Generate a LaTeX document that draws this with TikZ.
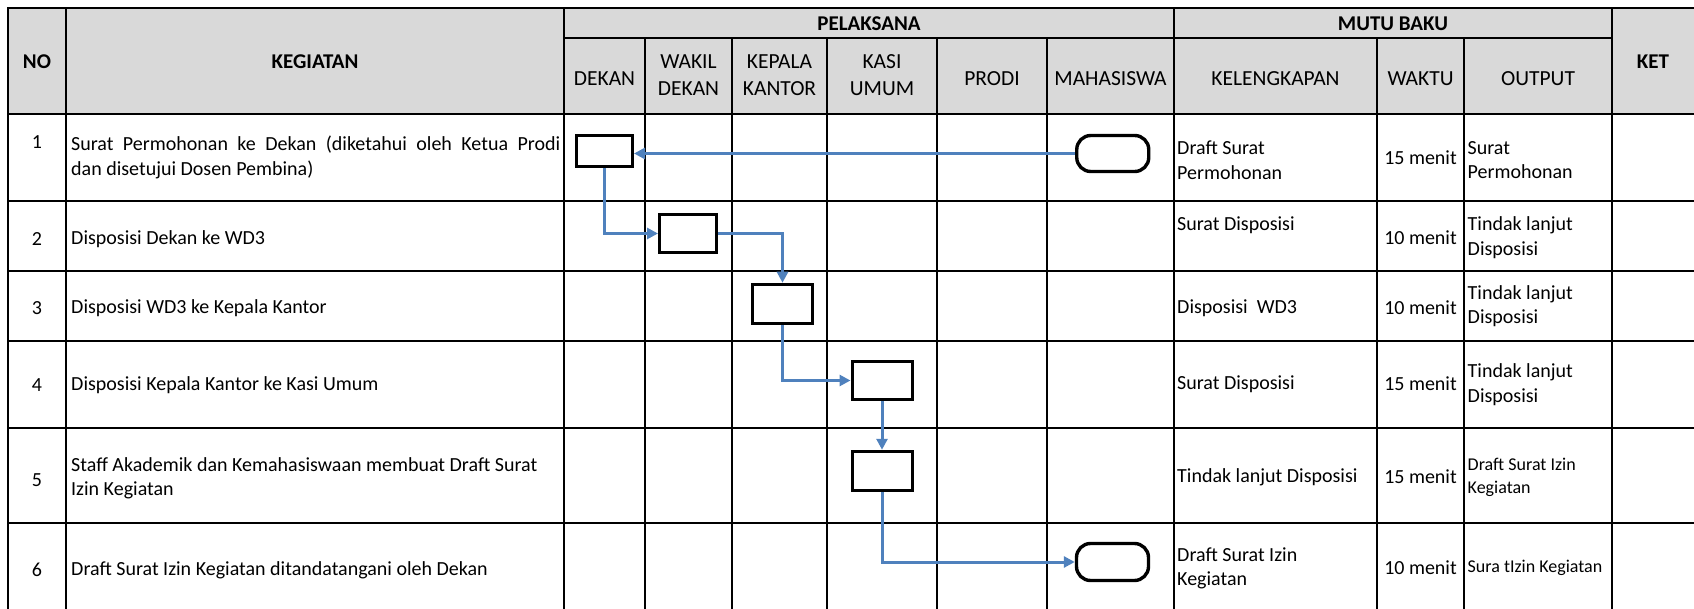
\documentclass[tikz,border=0pt]{standalone}
\usepackage{fontspec}
\setmainfont{Carlito}
\usetikzlibrary{arrows.meta}
\definecolor{hdr}{HTML}{D9D9D9}
\definecolor{flow}{HTML}{4F81BD}
\begin{document}
\begin{tikzpicture}[x=1pt,y=-1pt,
  grid/.style={line width=2pt},
  outer/.style={line width=2.6pt},
  lcell/.style={font=\fontsize{20}{24.5}\selectfont, inner sep=0pt, anchor=west, align=left},
  ccell/.style={font=\fontsize{20}{24.5}\selectfont, inner sep=0pt, anchor=center, align=center},
  smallcell/.style={font=\fontsize{18}{23}\selectfont, inner sep=0pt, anchor=west, align=left},
  hsub/.style={font=\fontsize{21.5}{27}\selectfont, inner sep=0pt, align=center},
  hbold/.style={font=\bfseries\fontsize{21}{25}\selectfont, inner sep=0pt, align=center},
  proc/.style={draw, line width=3pt, inner sep=0pt},
  term/.style={draw, line width=3.4pt, rounded corners=14pt, inner sep=0pt},
  flowline/.style={draw=flow, line width=3pt, -{Triangle[length=11pt,width=11pt]}},
]
\useasboundingbox (0,0) rectangle (1694,609);
% header fill
\fill[hdr] (8,8) rectangle (1694,114);
% horizontal lines
\foreach \yy in {114,201,271,341,428,523}
  \draw[grid] (8,\yy) -- (1694,\yy);
\draw[grid] (564,38.5) -- (1612,38.5);
% vertical lines
\foreach \xx in {66,564,1174,1612}
  \draw[grid] (\xx,8) -- (\xx,609);
\foreach \xx in {645,732,827,937,1047,1377,1464}
  \draw[grid] (\xx,38.5) -- (\xx,609);
% outer border
\draw[outer] (8,609) -- (8,8) -- (1694,8);

% header texts
\node[hbold] (hno) at (37,62) {NO};
\node[hbold] (hkeg) at (315,62) {KEGIATAN};
\node[hbold] (hpel) at (869,24) {PELAKSANA};
\node[hbold] (hmutu) at (1393,24) {MUTU BAKU};
\node[hbold] (hket) at (1653,62) {KET};
\node[hsub] (hdek) at (604.5,79) {DEKAN};
\node[hsub] (hwak) at (688.5,75) {WAKIL\\DEKAN};
\node[hsub] (hkep) at (779.5,75) {KEPALA\\KANTOR};
\node[hsub] (hkas) at (882,75) {KASI\\UMUM};
\node[hsub] (hpro) at (992,79) {PRODI};
\node[hsub] (hmah) at (1110.5,79) {MAHASISWA};
\node[hsub] (hkel) at (1275.5,79) {KELENGKAPAN};
\node[hsub] (hwkt) at (1420.5,79) {WAKTU};
\node[hsub] (hout) at (1538,79) {OUTPUT};

% row 1
\node[ccell] (n1) at (37,142) {1};
\node[lcell] (k1) at (71,157.5) {\makebox[489pt][s]{Surat Permohonan ke Dekan (diketahui oleh Ketua Prodi}\\dan disetujui Dosen Pembina)};
\node[lcell] (l1) at (1177,160) {Draft Surat\\Permohonan};
\node[ccell] (w1) at (1420.5,158) {15 menit};
\node[lcell] (o1) at (1467.5,160) {Surat\\Permohonan};
% row 2
\node[ccell] (n2) at (37,239) {2};
\node[lcell] (k2) at (71,239) {Disposisi Dekan ke WD3};
\node[lcell] (l2) at (1177,225) {Surat Disposisi};
\node[ccell] (w2) at (1420.5,238) {10 menit};
\node[lcell] (o2) at (1467.5,237.5) {Tindak lanjut\\Disposisi};
% row 3
\node[ccell] (n3) at (37,308) {3};
\node[lcell] (k3) at (71,308) {Disposisi WD3 ke Kepala Kantor};
\node[lcell] (l3) at (1177,308) {Disposisi\ \ WD3};
\node[ccell] (w3) at (1420.5,308) {10 menit};
\node[lcell] (o3) at (1467.5,306) {Tindak lanjut\\Disposisi};
% row 4
\node[ccell] (n4) at (37,385) {4};
\node[lcell] (k4) at (71,385) {Disposisi Kepala Kantor ke Kasi Umum};
\node[lcell] (l4) at (1177,384) {Surat Disposisi};
\node[ccell] (w4) at (1420.5,384) {15 menit};
\node[lcell] (o4) at (1467.5,384.5) {Tindak lanjut\\Disposisi};
% row 5
\node[ccell] (n5) at (37,480) {5};
\node[lcell] (k5) at (71,478.5) {Staff Akademik dan Kemahasiswaan membuat Draft Surat\\Izin Kegiatan};
\node[lcell] (l5) at (1177,477) {Tindak lanjut Disposisi};
\node[ccell] (w5) at (1420.5,477) {15 menit};
\node[smallcell] (o5) at (1467.5,477) {Draft Surat Izin\\Kegiatan};
% row 6
\node[ccell] (n6) at (37,570) {6};
\node[lcell] (k6) at (71,570) {Draft Surat Izin Kegiatan ditandatangani oleh Dekan};
\node[lcell] (l6) at (1177,568.5) {Draft Surat Izin\\Kegiatan};
\node[ccell] (w6) at (1420.5,568) {10 menit};
\node[smallcell] (o6) at (1467.5,568) {Sura tIzin Kegiatan};

% flow shapes
\node[term, minimum width=72pt, minimum height=36pt] (m1) at (1112.75,153.5) {};
\node[proc, minimum width=56pt, minimum height=31pt] (d1) at (604.5,151) {};
\node[proc, minimum width=57pt, minimum height=38.5pt] (b2) at (688,233.5) {};
\node[proc, minimum width=60pt, minimum height=39.5pt] (b3) at (782.5,304) {};
\node[proc, minimum width=60pt, minimum height=38.5pt] (b4) at (882,380.5) {};
\node[proc, minimum width=60pt, minimum height=39.5pt] (b5) at (882,471) {};
\node[term, minimum width=72pt, minimum height=37pt] (m6) at (1112.5,562) {};

% connectors
\draw[flowline] (m1.west) -- (m1.west -| d1.east);
\draw[flowline] (d1.south) |- (b2.west);
\draw[flowline] (b2.east) -| (b3.north);
\draw[flowline] (b3.south) |- (b4.west);
\draw[flowline] (b4.south) -- (b5.north);
\draw[flowline] (b5.south) |- (m6.west);
\end{tikzpicture}
\end{document}
